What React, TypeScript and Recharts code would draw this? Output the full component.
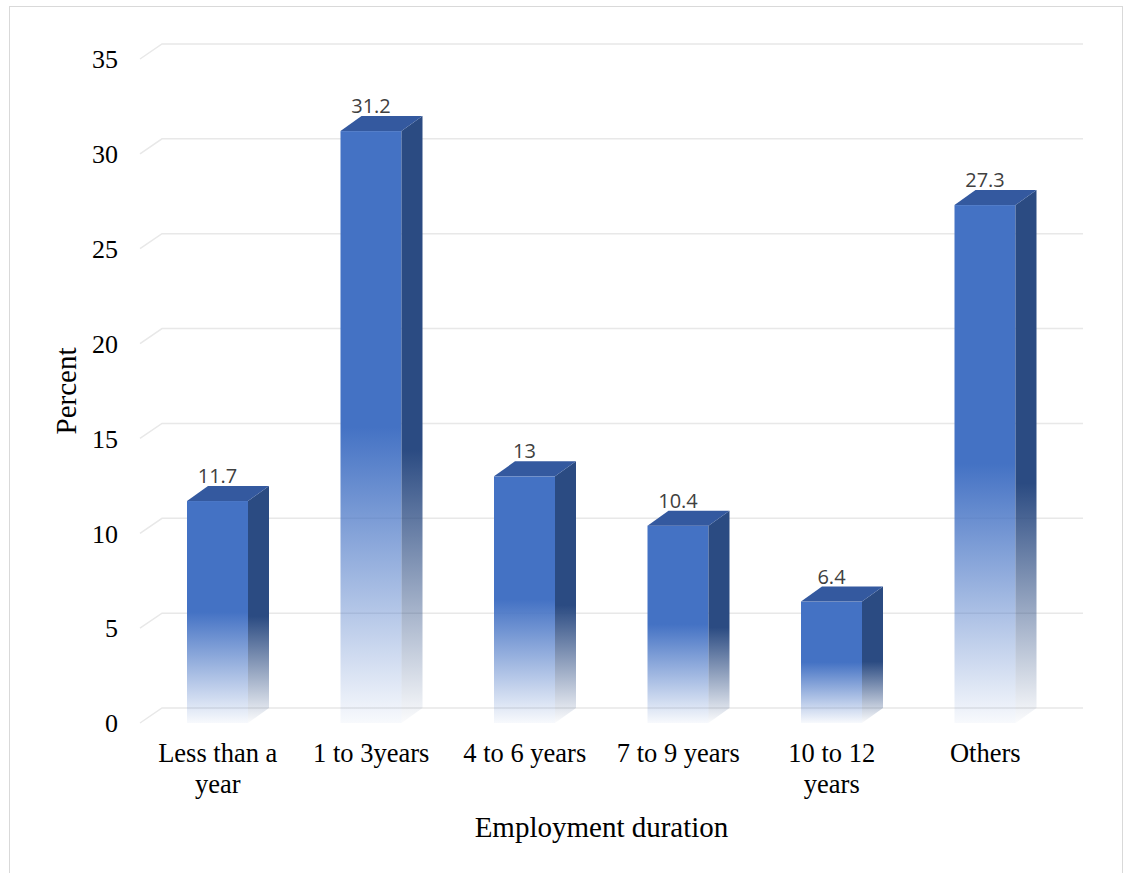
import React from "react";
import { BarChart, Bar, XAxis, YAxis, CartesianGrid, LabelList } from "recharts";

const categories = ["Less than a year", "1 to 3years", "4 to 6 years", "7 to 9 years", "10 to 12 years", "Others"];
const tickLines = [["Less than a", "year"], ["1 to 3years"], ["4 to 6 years"], ["7 to 9 years"], ["10 to 12", "years"], ["Others"]];
const percents = [11.7, 31.2, 13, 10.4, 6.4, 27.3];
const yTicks = [0, 5, 10, 15, 20, 25, 30, 35];

const data = categories.map((c, i) => ({ name: c, value: percents[i], idx: i }));

const DX = 21;
const DY = 15;
const SERIF = "'Liberation Serif', 'Times New Roman', serif";

const Bar3D = (props: any) => {
  const { x, y, width, height } = props;
  if (height <= 0) return null;
  return (
    <g>
      <rect x={x} y={y} width={width} height={height} fill="url(#gFront)" />
      <polygon
        points={`${x + width},${y} ${x + width + DX},${y - DY} ${x + width + DX},${y + height - DY} ${x + width},${y + height}`}
        fill="url(#gSide)"
      />
      <polygon
        points={`${x},${y} ${x + DX},${y - DY} ${x + width + DX},${y - DY} ${x + width},${y}`}
        fill="#34599F"
      />
    </g>
  );
};

const GridLine = (props: any) => {
  const { x1, y1, x2 } = props;
  return (
    <path
      key={props.key}
      d={`M${x1 - 1},${y1} L${x1 + DX},${y1 - DY} L${x2 + DX},${y1 - DY}`}
      stroke="#e8e8e8"
      strokeWidth={1.5}
      fill="none"
    />
  );
};

const XTick = (props: any) => {
  const { x, y, payload } = props;
  const lines = tickLines[payload.index] || [String(payload.value)];
  return (
    <text x={x} y={y + 39} textAnchor="middle" fontFamily={SERIF} fontSize={26.5} fill="#000">
      {lines.map((l, i) => (
        <tspan key={i} x={x} dy={i === 0 ? 0 : 31}>
          {l}
        </tspan>
      ))}
    </text>
  );
};

const ValueLabel = (props: any) => {
  const { x, y, width, value } = props;
  return (
    <text
      x={x + width / 2}
      y={y - 18}
      textAnchor="middle"
      fontFamily="'Open Sans', 'Liberation Sans', sans-serif"
      fontSize={20}
      fill="#404040"
    >
      {value}
    </text>
  );
};

export default function App() {
  return (
    <div style={{ position: "absolute", left: 0, top: 0, width: 1123, height: 873, overflow: "hidden", background: "#fff" }}>
      <div
        style={{
          position: "absolute",
          left: 9,
          top: 6,
          width: 1114,
          height: 890,
          border: "1px solid #d9d9d9",
          boxSizing: "border-box",
        }}
      />
      <div style={{ position: "absolute", left: 0, top: 0 }}>
        <BarChart
          width={1123}
          height={873}
          data={data}
          margin={{ top: 59, right: 61, bottom: 0, left: 0 }}
          barCategoryGap={0}
        >
          <defs>
            <linearGradient id="gFront" x1="0" y1="0" x2="0" y2="1">
              <stop offset="0" stopColor="#4472C4" stopOpacity={1} />
              <stop offset="0.5" stopColor="#4472C4" stopOpacity={1} />
              <stop offset="1" stopColor="#4472C4" stopOpacity={0.04} />
            </linearGradient>
            <linearGradient id="gSide" x1="0" y1="0" x2="0" y2="1">
              <stop offset="0" stopColor="#2B4B82" stopOpacity={1} />
              <stop offset="0.55" stopColor="#2B4B82" stopOpacity={1} />
              <stop offset="1" stopColor="#2B4B82" stopOpacity={0.02} />
            </linearGradient>
          </defs>
          <CartesianGrid vertical={false} horizontal={GridLine as any} />
          <XAxis
            dataKey="name"
            axisLine={false}
            tickLine={false}
            tickSize={0}
            tickMargin={0}
            height={150}
            interval={0}
            tick={<XTick />}
            label={{
              content: (p: any) => {
                const vb = p.viewBox || {};
                return (
                  <text
                    x={vb.x + vb.width / 2}
                    y={vb.y + 114}
                    textAnchor="middle"
                    fontFamily={SERIF}
                    fontSize={29}
                    fill="#000"
                  >
                    Employment duration
                  </text>
                );
              },
            }}
          />
          <YAxis
            domain={[0, 35]}
            ticks={yTicks}
            width={141}
            axisLine={false}
            tickLine={false}
            tickSize={0}
            tickMargin={23}
            tick={{ fontFamily: SERIF, fontSize: 26, fill: "#000" }}
            label={{
              content: (p: any) => {
                const vb = p.viewBox || {};
                const cx = vb.x + 76;
                const cy = vb.y + vb.height / 2;
                return (
                  <text
                    x={cx}
                    y={cy}
                    textAnchor="middle"
                    transform={`rotate(-90, ${cx}, ${cy})`}
                    fontFamily={SERIF}
                    fontSize={29}
                    fill="#000"
                  >
                    Percent
                  </text>
                );
              },
            }}
          />
          <Bar dataKey="value" barSize={61} shape={<Bar3D />} isAnimationActive={false}>
            <LabelList dataKey="value" content={<ValueLabel />} />
          </Bar>
        </BarChart>
      </div>
    </div>
  );
}
